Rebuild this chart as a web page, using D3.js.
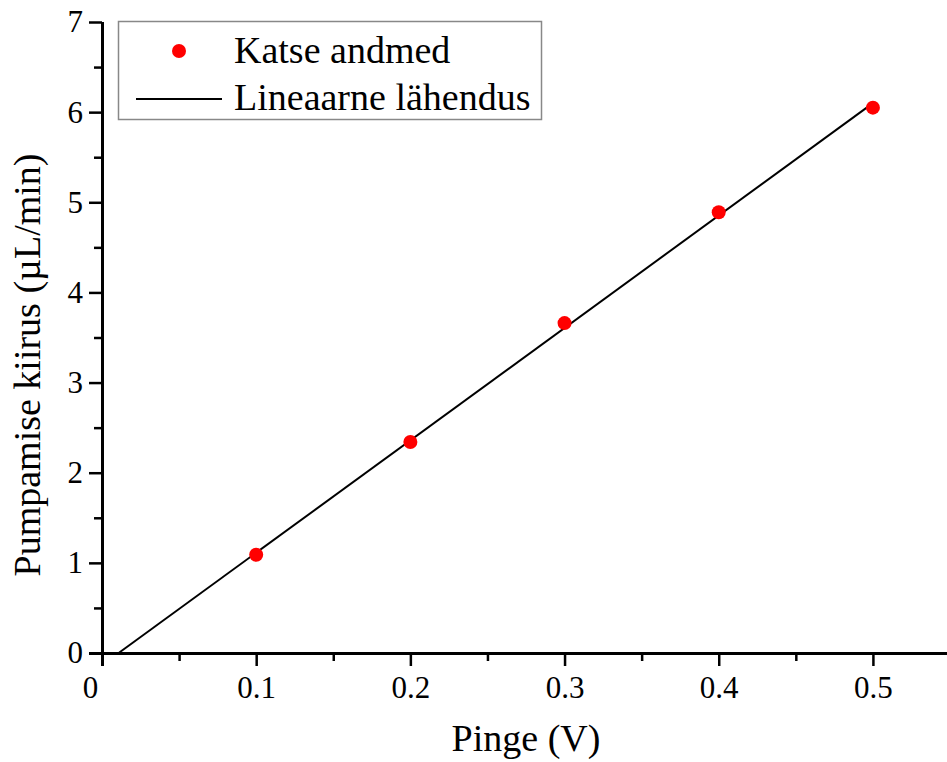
<!DOCTYPE html>
<html>
<head>
<meta charset="utf-8">
<script src="https://cdn.jsdelivr.net/npm/d3@7"></script>
<style>
  body { margin: 0; background: #fff; }
  svg { display: block; font-family: "Liberation Serif", "Times New Roman", serif; }
  svg text { font-family: "Liberation Serif", "Times New Roman", serif; }
</style>
</head>
<body>
<svg id="chart" width="947" height="762"></svg>
<script>
// data
const voltage = [0.1, 0.2, 0.3, 0.4, 0.5];
const flowRate = [1.09, 2.34, 3.66, 4.89, 6.05];
// fitted line end points
const fitX = [0.0108, 0.5];
const fitY = [0, 6.10];
const xTicks = [0, 0.1, 0.2, 0.3, 0.4, 0.5];
const yTicks = [0, 1, 2, 3, 4, 5, 6, 7];
const legendLabels = ["Katse andmed", "Lineaarne lähendus"];

const svg = d3.select("#chart");

const x = d3.scaleLinear().domain([0, 0.55]).range([102, 950]);
const y = d3.scaleLinear().domain([0, 7]).range([653, 22]);

function styleAxis(g) {
    g.attr("font-family", "Liberation Serif, serif").attr("font-size", 31);
    g.selectAll(".tick text").attr("fill", "#000");
    g.selectAll(".tick line").attr("stroke-width", 2.5);
}

//minor ticks first, majors on top
svg.append("g")
    .attr("transform", "translate(0,653)")
    .call(d3.axisBottom(x).tickValues(d3.range(0.05, 0.55, 0.1)).tickSize(8).tickFormat(""))
    .call(g => g.select(".domain").remove())
    .call(styleAxis);

svg.append("g")
    .attr("transform", "translate(102,0)")
    .call(d3.axisLeft(y).tickValues(d3.range(0.5, 7, 1)).tickSize(8).tickFormat(""))
    .call(g => g.select(".domain").remove())
    .call(styleAxis);

let xAxis = svg.append("g")
    .attr("transform", "translate(0,653)")
    .call(d3.axisBottom(x).tickValues(xTicks).tickSize(13).tickPadding(10)
        .tickFormat(d => d === 0 ? "0" : d3.format(".1f")(d)))
    .call(g => g.select(".domain").attr("d", "M89,0.5H950").attr("stroke-width", 3))
    .call(styleAxis);
xAxis.selectAll(".tick").filter(d => d === 0).select("text").attr("dx", -12);

svg.append("g")
    .attr("transform", "translate(102,0)")
    .call(d3.axisLeft(y).tickValues(yTicks).tickSize(13).tickPadding(6).tickFormat(d3.format("d")))
    .call(g => g.select(".domain").attr("d", "M0.5,22V666").attr("stroke-width", 3))
    .call(styleAxis);

// fit line
svg.append("path")
    .datum(d3.zip(fitX, fitY))
    .attr("d", d3.line().x(d => x(d[0])).y(d => y(d[1])))
    .attr("fill", "none")
    .attr("stroke", "#000")
    .attr("stroke-width", 2);

// data points
svg.selectAll("circle.pt")
    .data(d3.zip(voltage, flowRate))
  .join("circle")
    .attr("class", "pt")
    .attr("cx", d => x(d[0]))
    .attr("cy", d => y(d[1]))
    .attr("r", 7)
    .attr("fill", "#ff0000");

// legend
let legend = svg.append("g");
legend.append("rect")
    .attr("x", 118.5).attr("y", 21.5)
    .attr("width", 423).attr("height", 98)
    .attr("fill", "#fff")
    .attr("stroke", "#888")
    .attr("stroke-width", 1.5);
legend.append("circle")
    .attr("cx", 179).attr("cy", 51).attr("r", 7).attr("fill", "#ff0000");
legend.append("line")
    .attr("x1", 136).attr("x2", 222).attr("y1", 99).attr("y2", 99)
    .attr("stroke", "#000").attr("stroke-width", 2);
legend.selectAll("text")
    .data(legendLabels)
  .join("text")
    .text(d => d)
    .attr("x", 234)
    .attr("y", (d, i) => 63 + i * 47)
    .attr("font-size", 38);

// axis titles
svg.append("text")
    .text("Pinge (V)")
    .attr("x", 526).attr("y", 751)
    .attr("text-anchor", "middle")
    .attr("font-size", 38);

svg.append("text")
    .text("Pumpamise kiirus (µL/min)")
    .attr("transform", "translate(40,365) rotate(-90)")
    .attr("text-anchor", "middle")
    .attr("font-size", 38);
</script>
</body>
</html>
